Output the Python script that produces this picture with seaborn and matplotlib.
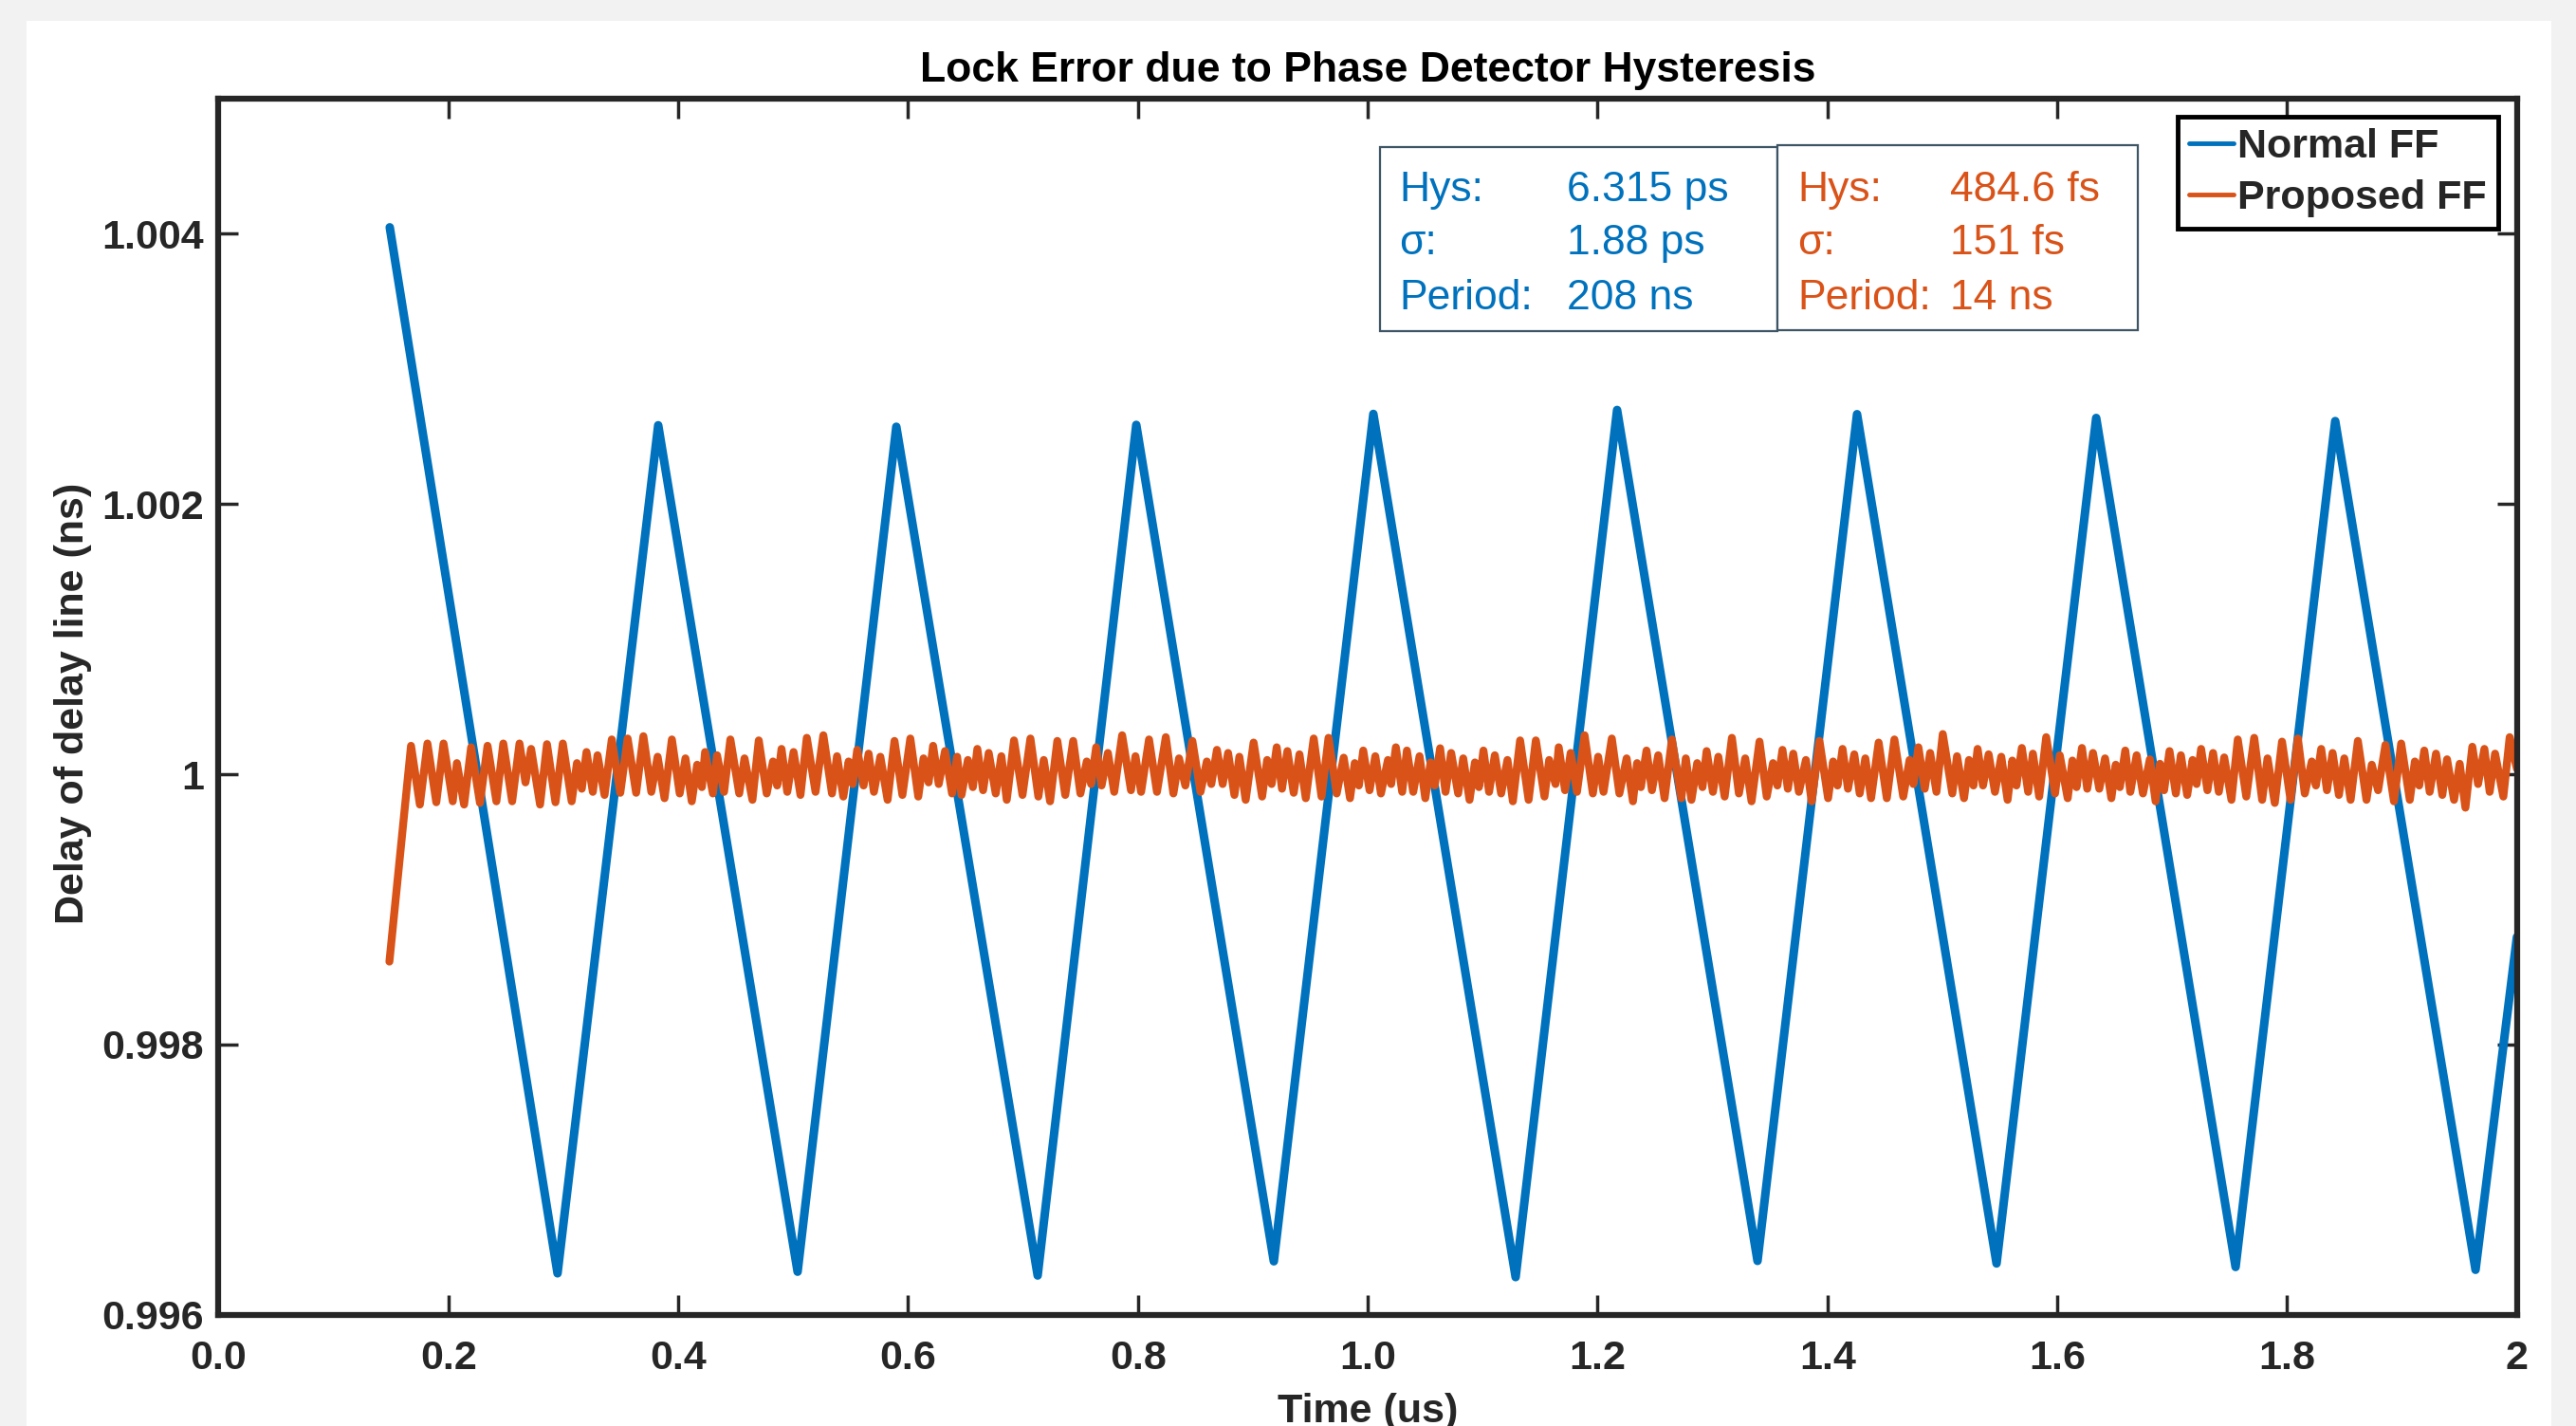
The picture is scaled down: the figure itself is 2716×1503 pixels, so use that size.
import numpy as np
import matplotlib
matplotlib.use("Agg")
import matplotlib.pyplot as plt
from matplotlib.patches import Rectangle
import seaborn as sns

# colours (MATLAB defaults)
BLUE = "#0072BD"
ORANGE = "#D95319"
DARK = "#262626"

# Normal FF: triangle-like lock error (time in us, delay in ns)
normal_t = [0.149, 0.295, 0.3826, 0.5039, 0.5898, 0.7128, 0.7986, 0.9183, 1.0049,
            1.1287, 1.2170, 1.3392, 1.4258, 1.5472, 1.6339, 1.7552, 1.8419, 1.9640, 2.0]
normal_v = [1.004048, 0.996307, 1.002583, 0.996319, 1.002572, 0.996291, 1.002586,
            0.996396, 1.002667, 0.996279, 1.002696, 0.996399, 1.002665, 0.996380,
            1.002637, 0.996354, 1.002614, 0.996333, 0.998796]

# Proposed FF: extrema of the fast oscillation (time in ns, offset from 1 ns in fs)
prop_t_a = [148.7, 167.5, 175.2, 181.8, 189.5, 195.8, 203.8, 207.4, 213.7, 219.8,
            227.5, 234.1, 241.8, 247.8, 255.5, 261.9, 267.1, 272.0, 279.8, 285.8,
            293.2, 299.6, 307.3, 311.9, 316.1, 320.2, 325.7, 329.8, 335.9, 342.2,
            349.6, 356.0, 363.4, 369.7, 376.6, 382.1, 388.1, 394.5, 401.3, 406.3,
            411.8, 416.5, 420.6, 423.4, 430.2, 433.8, 439.9, 445.4, 453.1, 457.7,
            464.6, 470.1, 477.0, 482.5, 486.1, 489.9, 494.9, 500.4, 506.4, 511.9]
prop_d_a = [-1386, 211, -224, 228, -207, 228, -200, 83, -224, 200,
            -212, 211, -200, 228, -200, 228, -60, 188, -224, 223,
            -207, 228, -200, 83, -107, 165, -130, 141, -153, 258,
            -137, 265, -137, 282, -130, 130, -177, 258, -142, 118,
            -200, 71, -95, 165, -142, 141, -130, 258, -142, 118,
            -189, 251, -142, 95, -83, 188, -130, 165, -153, 270]

prop_t_b = [519.5, 526.3, 533.8, 538.2, 543.7, 548.3, 551.9, 555.8, 561.3, 565.7,
            570.3, 575.9, 582.2, 588.2, 595.1, 602.0, 608.9, 613.5, 617.9, 621.8,
            626.7, 632.2, 638.3, 642.7, 646.5, 652.1, 656.4, 660.3, 665.3, 670.2,
            676.3, 681.2, 685.9, 692.2, 699.6, 706.5, 713.4, 718.1, 723.6, 729.9,
            736.8, 743.7, 750.0, 755.5, 759.3, 763.7, 768.4, 773.9, 779.4, 786.3,
            794.0, 797.9, 802.8, 809.7, 816.6, 824.3, 830.9, 835.8, 841.3, 847.4,
            854.5, 860.0, 863.9, 868.8, 873.8, 878.5, 884.0]
prop_d_b = [-130, 289, -142, 134, -165, 95, -72, 181, -83, 153,
            -130, 130, -189, 247, -153, 265, -165, 118, -60, 211,
            -72, 172, -142, 130, -153, 106, -95, 188, -118, 158,
            -142, 134, -189, 251, -153, 265, -165, 106, -200, 247,
            -153, 247, -142, 95, -72, 200, -83, 158, -130, 289,
            -118, 134, -130, 258, -130, 275, -142, 118, -83, 247,
            -130, 95, -72, 181, -72, 158, -153]

prop_t_c = [888.3, 893.8, 900.7, 908.1, 912.5, 916.4, 920.8, 925.4, 930.1, 935.6,
            940.6, 946.1, 953.0, 959.8, 965.9, 973.0, 979.1, 984.6, 988.7, 992.3,
            996.1, 1001.6, 1006.6, 1011.5, 1017.6, 1020.4, 1024.5, 1030.0, 1034.1, 1039.6,
            1045.1, 1050.1, 1054.7, 1058.3, 1063.0, 1067.7, 1072.6, 1078.7, 1083.1, 1088.6,
            1093.3, 1096.8, 1100.7, 1105.6, 1110.6, 1116.1, 1121.6, 1126.3, 1132.6, 1140.0,
            1146.3, 1153.8, 1157.9, 1163.4, 1166.2, 1171.7, 1176.6, 1182.1, 1188.7, 1195.9,
            1200.5, 1205.2, 1212.4, 1219.0, 1225.3, 1230.8, 1234.4, 1237.7, 1242.6, 1247.3,
            1252.8, 1258.3]
prop_d_c = [130, -189, 235, -165, 106, -72, 200, -107, 172, -137,
            148, -177, 265, -165, 270, -142, 123, -177, 83, -83,
            176, -118, 134, -142, 106, -72, 200, -130, 176, -130,
            134, -177, 88, -83, 193, -130, 158, -142, 118, -189,
            88, -95, 176, -130, 141, -142, 106, -200, 251, -189,
            251, -165, 106, -72, 200, -118, 158, -130, 289, -142,
            130, -130, 265, -142, 118, -200, 83, -95, 176, -118,
            141, -177]

prop_t_d = [1264.7, 1272.9, 1276.8, 1281.7, 1286.7, 1291.3, 1294.9, 1300.4, 1305.1, 1310.6,
            1316.9, 1323.0, 1328.5, 1334.0, 1340.9, 1347.2, 1352.7, 1356.5, 1360.9, 1365.6,
            1370.3, 1375.2, 1381.3, 1386.3, 1393.1, 1400.6, 1405.0, 1408.8, 1413.2, 1417.9,
            1423.4, 1428.1, 1433.0, 1438.0, 1444.6, 1451.7, 1458.3, 1466.0, 1471.5, 1474.8,
            1479.2, 1484.7, 1489.4, 1494.9, 1500.4, 1508.7, 1512.8, 1518.9, 1523.2, 1527.1,
            1530.7, 1535.4, 1540.3, 1545.8, 1551.3, 1556.8, 1560.9, 1564.5, 1569.2, 1574.7,
            1578.8, 1584.3, 1590.4, 1598.1, 1602.2, 1609.1, 1613.2, 1616.8, 1621.5, 1626.1]
prop_d_d = [258, -177, 118, -189, 83, -95, 172, -130, 130, -165,
            270, -142, 118, -200, 242, -165, 83, -83, 181, -107,
            153, -130, 106, -200, 247, -177, 95, -83, 188, -107,
            148, -142, 118, -177, 235, -177, 258, -165, 106, -72,
            200, -107, 158, -130, 298, -142, 134, -177, 106, -83,
            188, -83, 148, -130, 130, -189, 102, -83, 195, -130,
            153, -165, 275, -142, 141, -177, 102, -95, 195, -107]

prop_t_e = [1631.1, 1636.6, 1641.6, 1647.1, 1650.9, 1654.5, 1659.2, 1663.6, 1669.1, 1674.6,
            1680.6, 1685.6, 1689.4, 1693.0, 1697.7, 1703.2, 1707.6, 1713.1, 1717.8, 1721.3,
            1725.2, 1730.7, 1735.6, 1740.6, 1745.3, 1751.6, 1757.1, 1764.5, 1771.4, 1778.3,
            1783.0, 1789.3, 1795.6, 1803.0, 1809.4, 1815.4, 1821.5, 1825.1, 1829.7, 1834.7,
            1839.6, 1845.1, 1849.8, 1855.3, 1861.6, 1869.1, 1873.7, 1879.2, 1885.6, 1893.0,
            1899.3, 1906.8, 1911.2, 1915.0, 1919.4, 1924.1, 1929.6, 1935.1, 1939.2, 1945.3,
            1950.2, 1955.2, 1961.2, 1966.2, 1971.7, 1976.3, 1981.0, 1988.2, 1993.7, 2000.0]
prop_d_e = [158, -107, 118, -177, 71, -95, 176, -130, 141, -142,
            111, -200, 78, -118, 172, -142, 141, -153, 106, -72,
            188, -118, 158, -130, 125, -189, 258, -165, 270, -189,
            118, -212, 242, -189, 265, -142, 95, -83, 188, -118,
            158, -153, 118, -189, 247, -189, 71, -118, 218, -200,
            228, -189, 95, -83, 176, -130, 153, -153, 111, -189,
            78, -247, 204, -72, 188, -130, 153, -165, 275, 41]

# annotation boxes
stat_names = ["Hys:", "\u03c3:", "Period:"]
normal_stats = ["6.315 ps", "1.88 ps", "208 ns"]
proposed_stats = ["484.6 fs", "151 fs", "14 ns"]

x_ticks = [0, 0.2, 0.4, 0.6, 0.8, 1.0, 1.2, 1.4, 1.6, 1.8, 2.0]
x_labels = ["0.0", "0.2", "0.4", "0.6", "0.8", "1.0", "1.2", "1.4", "1.6", "1.8", "2"]
y_ticks = [0.996, 0.998, 1.0, 1.002, 1.004]
y_labels = ["0.996", "0.998", "1", "1.002", "1.004"]

sns.set_style("ticks")
plt.rcParams["font.family"] = ["Liberation Sans", "DejaVu Sans"]

W, H = 2716, 1503


def fx(x):
    return x / W


def fy(y):
    return 1 - y / H


fig = plt.figure(figsize=(W / 100, H / 100), dpi=100, facecolor="#f2f2f2")
fig.add_artist(Rectangle((fx(28), 0), fx(2690) - fx(28), fy(22), transform=fig.transFigure,
                         facecolor="white", edgecolor="none", zorder=-10))

ax = fig.add_axes([fx(230.4), fy(1385.8), fx(2653.7) - fx(230.4), fy(104) - fy(1385.8)])

prop_t = np.array(prop_t_a + prop_t_b + prop_t_c + prop_t_d + prop_t_e) / 1000.0
prop_v = 1.0 + np.array(prop_d_a + prop_d_b + prop_d_c + prop_d_d + prop_d_e) * 1e-6

sns.lineplot(x=normal_t, y=normal_v, ax=ax, color=BLUE, linewidth=6.5,
             label="Normal FF", sort=False, estimator=None)
sns.lineplot(x=prop_t, y=prop_v, ax=ax, color=ORANGE, linewidth=6.0,
             label="Proposed FF", sort=False, estimator=None)

ax.set_xlim(0, 2)
ax.set_ylim(0.996, 1.005)
ax.set_xticks(x_ticks)
ax.set_xticklabels(x_labels)
ax.set_yticks(y_ticks)
ax.set_yticklabels(y_labels)
ax.tick_params(direction="in", length=15, width=2.5, top=True, right=True,
               labelsize=31, colors=DARK)
ax.tick_params(axis="x", pad=19)
ax.tick_params(axis="y", pad=11)
for lab in ax.get_xticklabels() + ax.get_yticklabels():
    lab.set_fontweight("bold")
for s in ax.spines.values():
    s.set_linewidth(4.5)
    s.set_color(DARK)

ax.set_title("Lock Error due to Phase Detector Hysteresis", fontsize=32,
             fontweight="bold", pad=13, color="black")
ax.set_xlabel("Time (us)", fontsize=31, fontweight="bold", color=DARK)
ax.set_ylabel("Delay of delay line (ns)", fontsize=31, fontweight="bold", color=DARK)
ax.xaxis.set_label_coords(0.5, -0.064)
ax.yaxis.set_label_coords(-0.055, 0.503)

leg = ax.legend(loc="upper right", bbox_to_anchor=(fx(2634), fy(123)),
                bbox_transform=fig.transFigure, prop=dict(weight="bold", size=31),
                frameon=True, fancybox=False, edgecolor="black", framealpha=1,
                handlelength=1.1, handletextpad=0.1, borderpad=0.28,
                labelspacing=0.32, borderaxespad=0)
leg.get_frame().set_linewidth(3.5)
for ln in leg.get_lines():
    ln.set_linewidth(3.5)
leg.set_zorder(10)

# stats boxes
for x0, x1, y0, y1 in [(1455, 1874, 155, 349), (1874, 2254, 153, 348)]:
    fig.add_artist(Rectangle((fx(x0), fy(y1)), fx(x1) - fx(x0), fy(y0) - fy(y1),
                             transform=fig.transFigure, facecolor="white",
                             edgecolor="#3e5566", linewidth=1.6, zorder=5))
baselines = [211.7, 268, 326]
for i, yb in enumerate(baselines):
    fig.text(fx(1475), fy(yb), stat_names[i], color=BLUE, fontsize=32, va="baseline", zorder=6)
    fig.text(fx(1652), fy(yb), normal_stats[i], color=BLUE, fontsize=32, va="baseline", zorder=6)
    fig.text(fx(1895), fy(yb), stat_names[i], color=ORANGE, fontsize=32, va="baseline", zorder=6)
    fig.text(fx(2056), fy(yb), proposed_stats[i], color=ORANGE, fontsize=32, va="baseline", zorder=6)

fig.savefig("out.png", dpi=100, facecolor=fig.get_facecolor())
